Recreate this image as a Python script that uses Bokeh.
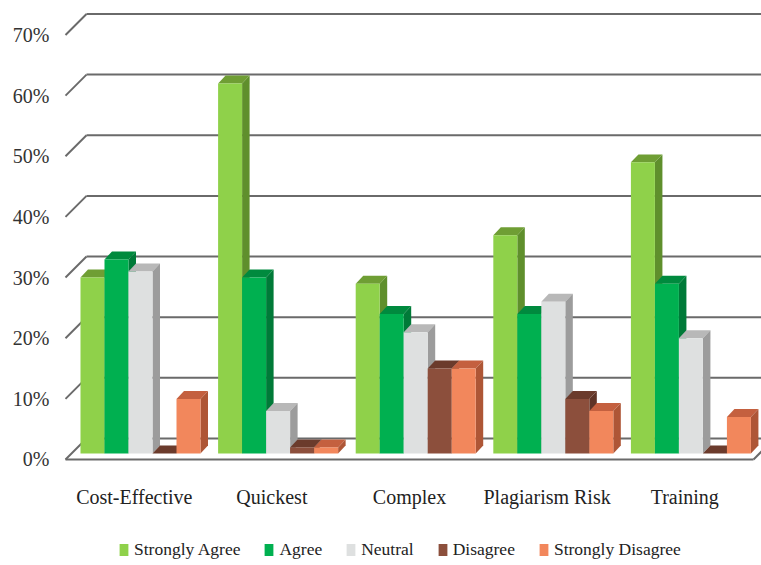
from bokeh.plotting import figure
from bokeh.models import Range1d, FixedTicker, Legend, LegendItem
from bokeh.embed import file_html
from bokeh.resources import INLINE

categories = ["Cost-Effective", "Quickest", "Complex", "Plagiarism Risk", "Training"]
series_names = ["Strongly Agree", "Agree", "Neutral", "Disagree", "Strongly Disagree"]
strongly_agree = [29, 61, 28, 36, 48]
agree = [32, 29, 23, 23, 28]
neutral = [30, 7, 20, 25, 19]
disagree = [0, 1, 14, 9, 0]
strongly_disagree = [9, 1, 14, 7, 6]
y_ticks = [0, 10, 20, 30, 40, 50, 60, 70]
y_labels = ["0%", "10%", "20%", "30%", "40%", "50%", "60%", "70%"]

series = [strongly_agree, agree, neutral, disagree, strongly_disagree]
front = ["#8FD14A", "#00B050", "#DEE0E0", "#8C4F3C", "#F2875C"]
top = ["#6F9E34", "#008A3E", "#B8B8B8", "#6B3B2C", "#C4603F"]
side = ["#5F8F2C", "#007A38", "#9C9C9C", "#5F3326", "#AE5636"]

PX_X = 137.6          # pixels per category
PX_Y = 6.065          # pixels per percent
BAR_W = 24 / PX_X
BAR_DX, BAR_DY = 6.2 / PX_X, 6 / PX_Y        # bar plane behind the front edge
DEPTH_X, DEPTH_Y = 7.5 / PX_X, 8 / PX_Y      # depth of a bar
WALL_DX, WALL_DY = 21 / PX_X, 21 / PX_Y      # back wall behind the front edge

W, H = 761, 565
p = figure(width=W, height=H, output_backend="svg", toolbar_location=None,
           x_range=Range1d(-0.5145, 4.558), y_range=Range1d(-17.48, 75.68),
           min_border_left=63, min_border_right=0, min_border_top=0, min_border_bottom=0,
           background_fill_color="white", border_fill_color="white", outline_line_color=None)
p.grid.visible = False

AX_FONT = "Liberation Serif"
for ax in (p.xaxis[0], p.yaxis[0]):
    ax.axis_line_color = None
    ax.major_tick_line_color = None
    ax.minor_tick_line_color = None
    ax.major_label_text_font = AX_FONT
p.xaxis[0].fixed_location = 0
p.xaxis[0].ticker = FixedTicker(ticks=list(range(len(categories))))
p.xaxis[0].major_label_overrides = {i: c for i, c in enumerate(categories)}
p.xaxis[0].major_label_text_font_size = "20px"
p.xaxis[0].major_label_text_color = "#222222"
p.xaxis[0].major_label_standoff = 21
p.yaxis[0].ticker = FixedTicker(ticks=y_ticks)
p.yaxis[0].major_label_overrides = {t: l for t, l in zip(y_ticks, y_labels)}
p.yaxis[0].major_label_text_font_size = "20px"
p.yaxis[0].major_label_text_color = "#333333"
p.yaxis[0].major_label_standoff = 8

# walls and floor
x0, x1 = -0.5, len(categories) - 0.5
grid_col, grid_w = "#6A6A6A", 2
p.segment(x0=[x0 + WALL_DX] * len(y_ticks), x1=[x1 + WALL_DX] * len(y_ticks),
          y0=[t + WALL_DY for t in y_ticks], y1=[t + WALL_DY for t in y_ticks],
          line_color=grid_col, line_width=grid_w)
p.segment(x0=[x0] * len(y_ticks), x1=[x0 + WALL_DX] * len(y_ticks),
          y0=y_ticks, y1=[t + WALL_DY for t in y_ticks],
          line_color=grid_col, line_width=grid_w)
p.segment(x0=[x0, x1], x1=[x1, x1 + WALL_DX], y0=[0, 0], y1=[0, WALL_DY],
          line_color=grid_col, line_width=grid_w)

items = []
for s, (name, vals) in enumerate(zip(series_names, series)):
    xl = [i + BAR_DX + (s - 2.5) * BAR_W for i in range(len(vals))]
    xr = [a + BAR_W for a in xl]
    yt = [v + BAR_DY for v in vals]
    p.patches(xs=[[a, b, b + DEPTH_X, a + DEPTH_X] for a, b in zip(xl, xr)],
              ys=[[y, y, y + DEPTH_Y, y + DEPTH_Y] for y in yt],
              fill_color=top[s], line_color=None)
    p.patches(xs=[[b, b + DEPTH_X, b + DEPTH_X, b] for b in xr],
              ys=[[BAR_DY, BAR_DY + DEPTH_Y, y + DEPTH_Y, y] for y in yt],
              fill_color=side[s], line_color=None)
    r = p.quad(left=xl, right=xr, bottom=[BAR_DY] * len(vals), top=yt,
               fill_color=front[s], line_color=None)
    items.append(LegendItem(label=name, renderers=[r]))

legend = Legend(items=items, orientation="horizontal", location=(55, 5),
                background_fill_alpha=0, border_line_color=None,
                glyph_width=11, glyph_height=15, label_standoff=5, spacing=23,
                padding=0, margin=0,
                label_text_font=AX_FONT, label_text_font_size="17.5px",
                label_text_color="#222222")
p.add_layout(legend)

open("out.html", "w").write(file_html(p, INLINE))
